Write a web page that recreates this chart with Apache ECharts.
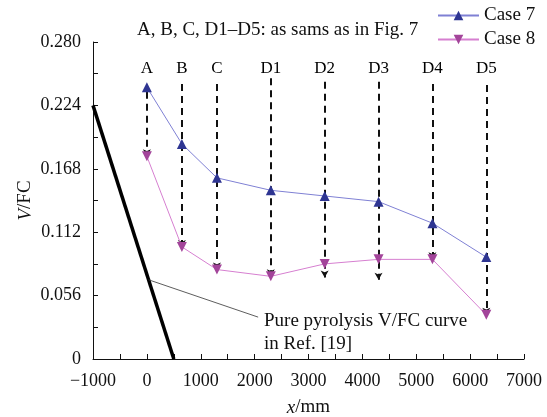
<!DOCTYPE html>
<html><head><meta charset="utf-8">
<script src="https://cdn.jsdelivr.net/npm/echarts@6/dist/echarts.min.js"></script>
<style>html,body{margin:0;padding:0;background:#fff}#c{width:547px;height:417px}</style>
</head><body><div id="c"></div>
<script>
var positions = ['A','B','C','D1','D2','D3','D4','D5'];
var xPos = [0, 650, 1300, 2300, 3300, 4300, 5300, 6300];
var case7 = [0.240, 0.190, 0.160, 0.149, 0.144, 0.139, 0.120, 0.090];
var case8 = [0.179, 0.099, 0.079, 0.073, 0.084, 0.088, 0.088, 0.039];
var dashTop = [0.236, 0.243, 0.243, 0.248, 0.245, 0.245, 0.243, 0.242];
var dashBottom = [0.179, 0.099, 0.079, 0.073, 0.072, 0.070, 0.088, 0.039];
var labelY = 0.257;
var pyroX = [-1000, 500];
var pyroY = [0.224, 0];
var leaderFrom = [30, 0.070];
var leaderTo = [2065, 0.037];
var xTicks = [-1000, 0, 1000, 2000, 3000, 4000, 5000, 6000, 7000];
var yTicks = [0, 0.056, 0.112, 0.168, 0.224, 0.280];

var FONT = 'Liberation Serif';
var chart = echarts.init(document.getElementById('c'), null, {renderer:'canvas'});

function zip(xs, ys){ return xs.map(function(x,i){ return [x, ys[i]]; }); }

var dashLines = xPos.map(function(x,i){
  return [{coord:[x, dashTop[i]]},{coord:[x, dashBottom[i]]}];
});

chart.setOption({
  animation:false,
  textStyle:{fontFamily:FONT},
  grid:{left:93, right:23, top:42, bottom:58, containLabel:false, outerBoundsMode:'none'},
  legend:{
    data:['Case 7','Case 8'], orient:'vertical', left:432, top:1,
    itemWidth:41, itemHeight:12, itemGap:5,
    textStyle:{fontFamily:FONT, fontSize:19, color:'#111'}
  },
  xAxis:{
    type:'value', min:-1000, max:7000, interval:1000,
    name:'{i|x}/mm', nameLocation:'middle', nameGap:39,
    nameTextStyle:{fontFamily:FONT, fontSize:19, color:'#111',
      rich:{i:{fontFamily:FONT, fontSize:19, fontStyle:'italic', color:'#111'}}},
    axisLine:{onZero:false, lineStyle:{color:'#111', width:1}},
    axisTick:{inside:true, length:5, lineStyle:{color:'#111'}},
    minorTick:{show:true, splitNumber:2, length:5, lineStyle:{color:'#111'}},
    splitLine:{show:false},
    axisLabel:{fontFamily:FONT, fontSize:18, color:'#111', margin:13,
      formatter:function(v){ return xTicks.indexOf(v)>=0 ? (v<0 ? '\u2212'+Math.abs(v) : ''+v) : ''; }}
  },
  yAxis:{
    type:'value', min:0, max:0.28, interval:0.056,
    name:'{i|V}/FC', nameLocation:'middle', nameGap:58, nameRotate:90, nameMoveOverlap:false,
    nameTextStyle:{fontFamily:FONT, fontSize:19, color:'#111',
      rich:{i:{fontFamily:FONT, fontSize:19, fontStyle:'italic', color:'#111'}}},
    axisLine:{show:true, onZero:false, lineStyle:{color:'#111', width:1}},
    axisTick:{show:true, inside:true, length:5, lineStyle:{color:'#111'}},
    minorTick:{show:true, splitNumber:2, length:5, lineStyle:{color:'#111'}},
    splitLine:{show:false},
    axisLabel:{fontFamily:FONT, fontSize:18, color:'#111', margin:12,
      formatter:function(v){
        var m = yTicks.filter(function(t){return Math.abs(t-v)<1e-6;});
        if(!m.length) return '';
        return v===0 ? '0' : v.toFixed(3);
      }}
  },
  series:[
    {
      name:'Pyrolysis', type:'line', data:zip(pyroX, pyroY), symbol:'none',
      lineStyle:{color:'#000', width:3.5}, z:3,
      markLine:{
        silent:true, symbol:['none','none'],
        lineStyle:{color:'#333', width:0.8, type:'solid'},
        label:{show:false},
        data:[[{coord:leaderFrom},{coord:leaderTo}]]
      }
    },
    {
      name:'Dashes', type:'line', data:[], symbol:'none',
      markLine:{
        silent:true, symbol:['none','arrow'], symbolSize:[6,7],
        lineStyle:{color:'#111', width:2, type:[7,5]},
        label:{show:false},
        data:dashLines
      }
    },
    {
      name:'Labels', type:'scatter', symbolSize:1,
      itemStyle:{color:'rgba(0,0,0,0)', opacity:1},
      data:xPos.map(function(x,i){ return {value:[x,labelY], name:positions[i]}; }),
      label:{show:true, position:'inside', formatter:'{b}', fontFamily:FONT, fontSize:17, color:'#000', opacity:1, textBorderWidth:0}
    },
    {
      name:'Case 7', type:'line', data:zip(xPos, case7),
      symbol:'triangle', symbolSize:10,
      lineStyle:{color:'#7f80d4', width:1},
      itemStyle:{color:'#2e3592'}, z:5
    },
    {
      name:'Case 8', type:'line', data:zip(xPos, case8),
      symbol:'triangle', symbolRotate:180, symbolSize:10,
      lineStyle:{color:'#d67fd0', width:1},
      itemStyle:{color:'#a3449a'}, z:5
    }
  ],
  graphic:[
    {type:'text', left:137, top:21, style:{text:'A, B, C, D1\u2013D5: as sams as in Fig. 7', font:'19px "Liberation Serif"', fill:'#111'}},
    {type:'text', left:264, top:310, style:{text:'Pure pyrolysis V/FC curve\nin Ref. [19]', font:'19px "Liberation Serif"', fill:'#111', lineHeight:23}}
  ]
});
</script></body></html>
